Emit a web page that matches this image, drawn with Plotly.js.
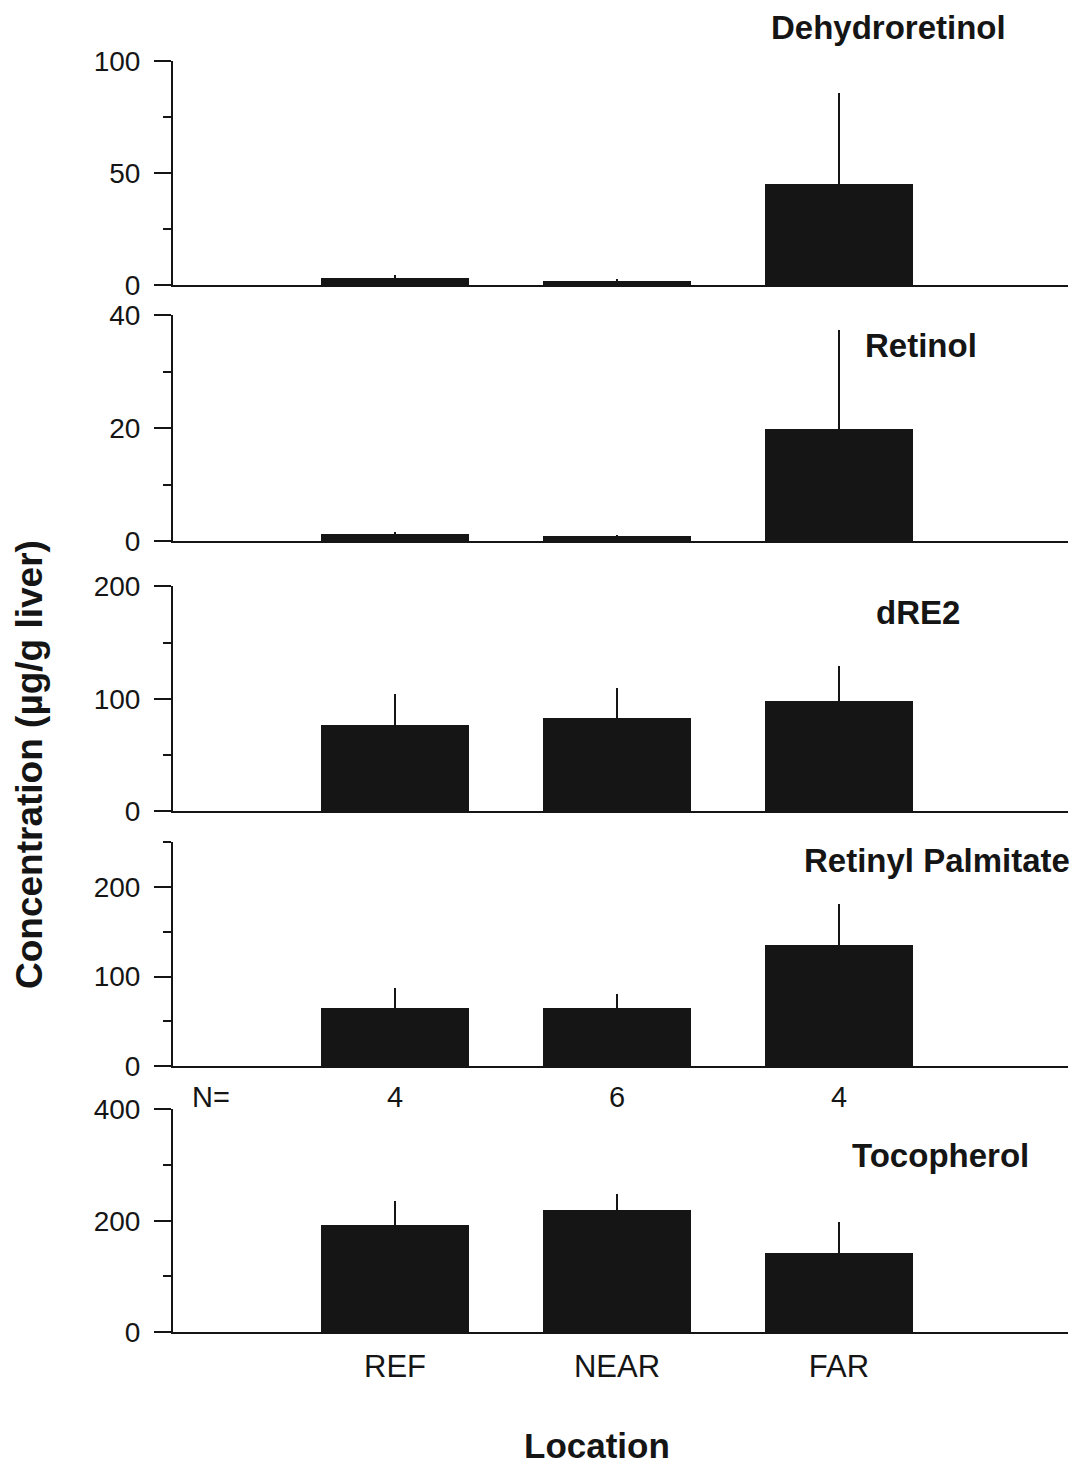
<!DOCTYPE html>
<html><head><meta charset="utf-8">
<script src="https://cdn.plot.ly/plotly-3.0.1.min.js"></script>
<style>html,body{margin:0;padding:0;background:#fff}</style>
</head><body>
<div id="chart" style="width:1078px;height:1468px"></div>
<script>
// ---- data ----
const categories = ['REF', 'NEAR', 'FAR'];
const panelTitles = ['Dehydroretinol', 'Retinol', 'dRE2', 'Retinyl Palmitate', 'Tocopherol'];
const dehydroretinol = [3, 2, 45];
const dehydroretinolSE = [1.5, 0.5, 41];
const retinol = [1.2, 0.9, 19.8];
const retinolSE = [0.4, 0.2, 17.7];
const dRE2 = [77, 83, 98];
const dRE2SE = [27, 27, 31];
const retinylPalmitate = [65, 65, 135];
const retinylPalmitateSE = [22, 16, 46];
const tocopherol = [193, 220, 142];
const tocopherolSE = [42, 28, 55];
const sampleSizes = ['4', '6', '4'];
const yRanges = [[0, 100], [0, 40], [0, 200], [0, 250], [0, 400]];
const yMajorTicks = [[0, 50, 100], [0, 20, 40], [0, 100, 200], [0, 100, 200], [0, 200, 400]];
const yMinorStep = [25, 10, 50, 50, 100];
const xTitle = 'Location';
const yTitle = 'Concentration (µg/g liver)';

// ---- layout helpers ----
const W = 1078, H = 1468;
const FONT = 'Liberation Sans, Arial, Helvetica, sans-serif';
const INK = '#151515';
const panelTop = [61, 315, 586, 842, 1109];
const panelBottom = [285, 541, 811, 1066, 1332];
const xLeft = 173, xRight = 1068;
const py = p => 1 - p / H;
const px = p => p / W;

const values = [dehydroretinol, retinol, dRE2, retinylPalmitate, tocopherol];
const errors = [dehydroretinolSE, retinolSE, dRE2SE, retinylPalmitateSE, tocopherolSE];
const xPos = categories.map((c, i) => i + 1);

const traces = values.map((v, i) => ({
  type: 'bar',
  x: xPos,
  y: v,
  width: 0.667,
  xaxis: i === 0 ? 'x' : 'x' + (i + 1),
  yaxis: i === 0 ? 'y' : 'y' + (i + 1),
  marker: {color: INK, line: {width: 0}},
  error_y: {type: 'data', symmetric: false, array: errors[i], arrayminus: v.map(() => 0),
            color: INK, thickness: 2, width: 0},
  hoverinfo: 'skip',
  showlegend: false
}));

const layout = {
  width: W, height: H,
  margin: {l: 0, r: 0, t: 0, b: 0},
  paper_bgcolor: '#fff', plot_bgcolor: 'rgba(0,0,0,0)',
  font: {family: FONT, color: INK, size: 28},
  bargap: 0,
  annotations: []
};

for (let i = 0; i < 5; i++) {
  const xk = i === 0 ? 'xaxis' : 'xaxis' + (i + 1);
  const yk = i === 0 ? 'yaxis' : 'yaxis' + (i + 1);
  const ya = i === 0 ? 'y' : 'y' + (i + 1);
  const xa = i === 0 ? 'x' : 'x' + (i + 1);
  const last = i === 4;
  const r = yRanges[i];
  layout[xk] = {
    domain: [px(xLeft), px(xRight)],
    anchor: ya,
    range: [0, (xRight - xLeft) / 222],
    showline: true, linewidth: 2, linecolor: INK,
    showgrid: false, zeroline: false,
    ticks: '',
    tickmode: 'array', tickvals: xPos, ticktext: categories,
    showticklabels: last,
    tickfont: {family: FONT, size: 31, color: INK},
    ticklabelstandoff: 6,
    fixedrange: true
  };
  layout[yk] = {
    domain: [py(panelBottom[i]), py(panelTop[i])],
    anchor: xa,
    range: [r[0], r[1] * 1.002],
    showline: true, linewidth: 2, linecolor: INK,
    showgrid: false, zeroline: false,
    ticks: 'outside', ticklen: 17, tickwidth: 2, tickcolor: INK,
    tickmode: 'array', tickvals: yMajorTicks[i],
    tickfont: {family: FONT, size: 28, color: INK},
    ticklabelstandoff: 8,
    minor: {dtick: yMinorStep[i], tick0: 0, ticks: 'outside', ticklen: 8, tickwidth: 2, tickcolor: INK},
    fixedrange: true
  };
}

// panel titles
const titlePos = [[888, 28], [921, 345], [918, 612], [937, 860], [940, 1155]];
panelTitles.forEach((t, i) => {
  layout.annotations.push({
    text: t, xref: 'paper', yref: 'paper',
    x: px(titlePos[i][0]), y: py(titlePos[i][1]),
    xanchor: 'center', yanchor: 'middle', showarrow: false,
    font: {family: FONT, size: 33, color: INK, weight: 'bold'}
  });
});

// N= row
layout.annotations.push({
  text: 'N=', xref: 'x5', yref: 'paper', x: 0.17, y: py(1097),
  xanchor: 'center', yanchor: 'middle', showarrow: false,
  font: {family: FONT, size: 29, color: INK}
});
sampleSizes.forEach((n, i) => {
  layout.annotations.push({
    text: n, xref: 'x5', yref: 'paper', x: xPos[i], y: py(1097),
    xanchor: 'center', yanchor: 'middle', showarrow: false,
    font: {family: FONT, size: 29, color: INK}
  });
});

// axis titles
layout.annotations.push({
  text: xTitle, xref: 'paper', yref: 'paper', x: px(597), y: py(1445),
  xanchor: 'center', yanchor: 'middle', showarrow: false,
  font: {family: FONT, size: 35, color: INK, weight: 'bold'}
});
layout.annotations.push({
  text: yTitle, xref: 'paper', yref: 'paper', x: px(30), y: py(765),
  xanchor: 'center', yanchor: 'middle', showarrow: false, textangle: -90,
  font: {family: FONT, size: 37, color: INK, weight: 'bold'}
});

Plotly.newPlot('chart', traces, layout, {displayModeBar: false, staticPlot: true});
</script>
</body></html>
